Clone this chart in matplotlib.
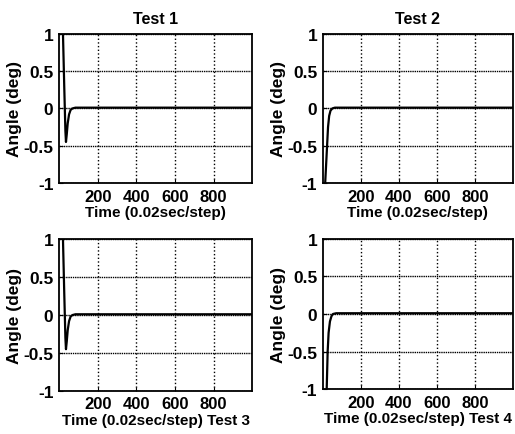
import numpy as np
import matplotlib.pyplot as plt

"""Angle response for four tests, 2x2 grid"""

plt.rcParams['font.family'] = ['Liberation Sans', 'DejaVu Sans']
plt.rcParams['font.weight'] = 'bold'
plt.rcParams['axes.titleweight'] = 'bold'
plt.rcParams['axes.labelweight'] = 'bold'

# time steps (0.02 sec/step) and angle (deg)
t1 = [1, 10, 20, 27, 33, 36, 40, 45, 52, 60, 70, 85, 120, 300, 600, 1000]
a1 = [1.6, 1.4, 1.05, 0.3, -0.3, -0.45, -0.35, -0.2, -0.08, -0.02, 0.0, 0.01, 0.01, 0.01, 0.01, 0.01]

t2 = [1, 12, 17, 22, 27, 33, 40, 50, 63, 100, 300, 600, 1000]
a2 = [-1.6, -1.0, -0.75, -0.5, -0.25, -0.1, -0.03, 0.0, 0.01, 0.01, 0.01, 0.01, 0.01]

t3 = [1, 10, 20, 27, 33, 36, 40, 45, 52, 60, 70, 85, 120, 300, 600, 1000]
a3 = [1.6, 1.4, 1.05, 0.3, -0.3, -0.45, -0.35, -0.2, -0.08, -0.02, 0.0, 0.01, 0.01, 0.01, 0.01, 0.01]

t4 = [1, 15, 20, 25, 30, 37, 45, 53, 70, 100, 300, 600, 1000]
a4 = [-1.6, -1.3, -1.0, -0.5, -0.25, -0.1, -0.03, 0.0, 0.01, 0.01, 0.01, 0.01, 0.01]

series = [(t1, a1), (t2, a2), (t3, a3), (t4, a4)]
titles = ['Test 1', 'Test 2', '', '']
xlabels = ['Time (0.02sec/step)', 'Time (0.02sec/step)',
           'Time (0.02sec/step) Test 3', 'Time (0.02sec/step) Test 4']
xticks = [200, 400, 600, 800]
yticks = [-1, -0.5, 0, 0.5, 1]
yticklabels = ['-1', '-0.5', '0', '0.5', '1']

# axes rectangles (left, bottom, width, height) in figure fraction
rects = [
    [0.1146, 0.577, 0.375, 0.343],
    [0.627, 0.577, 0.369, 0.343],
    [0.1146, 0.099, 0.375, 0.349],
    [0.627, 0.1034, 0.369, 0.345],
]

fig = plt.figure(figsize=(5.15, 4.35), dpi=100)

for i in range(4):
    ax = fig.add_axes(rects[i])
    t, a = series[i]
    ax.plot(t, a, color='black', lw=1.6)
    ax.set_xlim(0, 1000)
    ax.set_ylim(-1, 1)
    ax.set_xticks(xticks)
    ax.set_yticks(yticks)
    ax.set_yticklabels(yticklabels)
    ax.xaxis.grid(True, color='black', linestyle=':', linewidth=1.0)
    ax.yaxis.grid(True, color='black', linestyle=(0, (1, 0.6)), linewidth=1.0)
    ax.tick_params(direction='in', length=3, pad=4)
    ax.tick_params(axis='x', labelsize=12)
    ax.tick_params(axis='y', labelsize=12.5)
    for s in ax.spines.values():
        s.set_linewidth(1.3)
    if titles[i]:
        ax.set_title(titles[i], fontsize=11.5, pad=8)
    ax.set_xlabel(xlabels[i], fontsize=11, labelpad=1)
    ax.set_ylabel('Angle (deg)', fontsize=12.5, labelpad=1)

fig.savefig('out.png', dpi=100)
